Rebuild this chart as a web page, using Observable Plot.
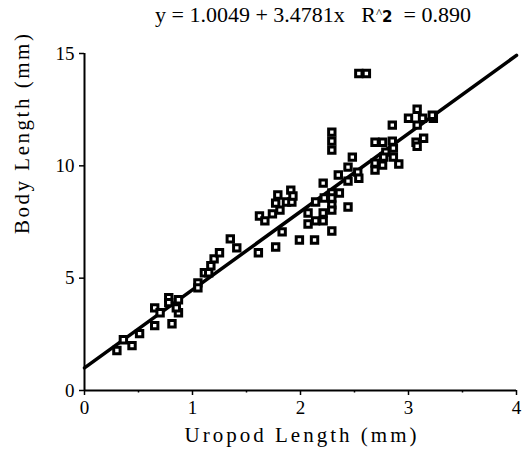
<!DOCTYPE html>
<html>
<head>
<meta charset="utf-8">
<script src="https://cdn.jsdelivr.net/npm/d3@7"></script>
<script src="https://cdn.jsdelivr.net/npm/@observablehq/plot@0.6"></script>
<style>
  body { margin: 0; background: white; }
  #title { height: 30px; line-height: 25px; font-family: "Liberation Serif", serif; font-size: 22px; padding-left: 155px; white-space: pre; color: #000; }
  #title .car { font-size: 13px; vertical-align: 5px; }
  #title .two { font-family: "DejaVu Sans", sans-serif; font-weight: bold; font-size: 15px; }
  svg { overflow: visible; }
</style>
</head>
<body>
<div id="title">y = 1.0049 + 3.4781x   R<span class="car">^</span><span class="two">2</span>  = 0.890</div>
<div id="chart"></div>
<script>
const uropod = [0.30,0.36,0.44,0.51,0.65,0.65,0.70,0.81,0.78,0.78,0.87,0.87,0.85,1.05,1.05,1.11,1.15,1.17,1.20,1.25,1.35,1.41,1.61,1.77,1.83,1.62,1.67,1.74,1.81,1.77,1.87,1.92,1.79,1.91,1.93,1.99,2.13,2.07,2.07,2.14,2.21,2.21,2.29,2.14,2.22,2.29,2.29,2.29,2.29,2.36,2.44,2.21,2.35,2.44,2.44,2.53,2.54,2.48,2.29,2.29,2.29,2.54,2.61,2.69,2.76,2.85,2.85,2.86,2.79,2.86,2.77,2.69,2.69,2.76,2.91,3.00,3.08,3.08,3.13,3.23,3.22,3.07,3.08,3.14];
const body = [1.78,2.26,2.00,2.53,2.89,3.68,3.46,2.97,4.13,3.91,4.04,3.46,3.68,4.79,4.57,5.24,5.24,5.55,5.86,6.13,6.75,6.35,6.13,6.39,7.06,7.77,7.55,7.86,8.03,8.34,8.39,8.39,8.70,8.92,8.66,6.70,6.70,7.90,7.41,7.55,7.55,7.90,7.10,8.39,8.57,8.79,8.57,8.26,8.03,8.79,8.17,9.23,9.59,9.32,9.94,9.72,9.45,10.39,11.50,11.10,10.70,14.11,14.11,11.05,11.05,11.10,11.81,10.79,10.61,10.39,10.39,10.12,9.81,10.03,10.08,12.12,12.52,11.81,12.12,12.12,12.25,11.05,10.87,11.23];
const intercept = 1.0049;
const slope = 3.4781;
const fitRange = [0, 4];
const xTicks = [0, 1, 2, 3, 4];
const xMinorTicks = [0.5, 1.5, 2.5, 3.5];
const yTicks = [0, 5, 10, 15];
const xLabel = "Uropod Length (mm)";
const yLabel = "Body Length (mm)";

const points = uropod.map((u, i) => ({x: u, y: body[i]}));
const fit = fitRange.map(x => ({x, y: intercept + slope * x}));

const chart = Plot.plot({
  width: 522,
  height: 431,
  marginTop: 23,
  marginBottom: 71,
  marginLeft: 84,
  marginRight: 6,
  x: {domain: [0, 4]},
  y: {domain: [0, 15]},
  style: {fontFamily: "Liberation Serif, serif", fontSize: "19px", background: "white", color: "black"},
  marks: [
    Plot.axisY({ticks: yTicks, tickSize: 5, tickPadding: 5, tickFormat: d3.format("d"), label: null, strokeWidth: 1.5}),
    Plot.axisX({ticks: xTicks, tickSize: 5, tickPadding: 5, tickFormat: d3.format("d"), label: null, strokeWidth: 1.5}),
    Plot.axisX({ticks: xMinorTicks, tickSize: 2.5, tickFormat: () => "", label: null, strokeWidth: 1.5}),
    Plot.ruleX([0], {y1: 0, y2: 15, strokeWidth: 2}),
    Plot.ruleY([0], {x1: 0, x2: 4, strokeWidth: 2}),
    Plot.line(fit, {x: "x", y: "y", stroke: "black", strokeWidth: 3.5}),
    Plot.dot(points, {x: "x", y: "y", symbol: "square", r: 3.6, fill: "white", stroke: "black", strokeWidth: 3}),
    Plot.text([xLabel], {frameAnchor: "bottom", dy: 51, fontSize: 21, text: d => d}),
    Plot.text([yLabel], {frameAnchor: "left", dx: -62, dy: 12, rotate: -90, fontSize: 21, text: d => d})
  ]
});
d3.select(chart).selectAll("text").each(function() {
  if (this.textContent === xLabel) { this.setAttribute("textLength", 232); this.setAttribute("lengthAdjust", "spacing"); }
  if (this.textContent === yLabel) { this.setAttribute("textLength", 200); this.setAttribute("lengthAdjust", "spacing"); }
});
document.getElementById("chart").appendChild(chart);
</script>
</body>
</html>
